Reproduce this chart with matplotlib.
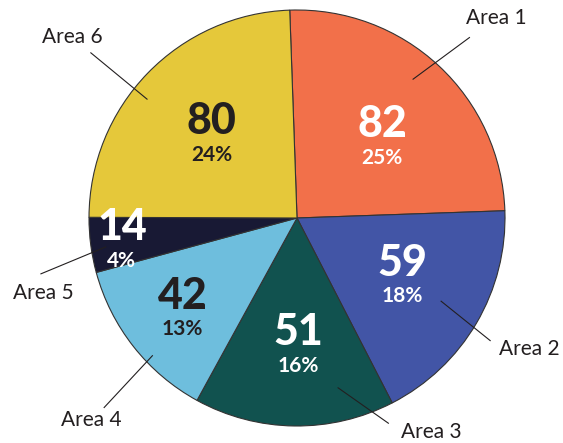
import numpy as np
import matplotlib
matplotlib.use("Agg")
import matplotlib.pyplot as plt

# data
areas = ["Area 1", "Area 2", "Area 3", "Area 4", "Area 5", "Area 6"]
values = [82, 59, 51, 42, 14, 80]
percents = ["25%", "18%", "16%", "13%", "4%", "24%"]

colors = ["#F2704A", "#4255A6", "#11524F", "#6EBEDD", "#181934", "#E5C83A"]
text_colors = ["white", "white", "white", "#231F20", "white", "#231F20"]

# layout of the labels (in radius units)
inner_r = [0.555, 0.583, 0.625, 0.71, 0.85, 0.565]
inner_shift = [-4.5, 0.5, 1.2, 1.1, 0.6, 0.5]      # deg from slice middle
leader_start = [(50.1, 0.87), (-30.0, 0.80), (-76.4, 0.84),
                (-136.4, 0.96), (-171.4, 0.93), (141.6, 0.92)]   # (deg, r)
leader_end = [(46.3, 1.20), (-32.4, 1.10), (-66.0, 1.08),
              (-135.5, 1.30), (-167.7, 1.26), (141.3, 1.27)]
label_pos = [(0.96, 0.96), (1.115, -0.63), (0.645, -1.03),
             (-0.99, -0.97), (-1.22, -0.36), (-1.08, 0.87)]

dark = "#231F20"
plt.rcParams['font.family'] = ['Lato', 'DejaVu Sans']

fig = plt.figure(figsize=(5.63, 4.43), dpi=100)
ax = fig.add_axes([89 / 563, 17 / 443, 416 / 563, 416 / 443])
wedges, _ = ax.pie(values, colors=colors, startangle=92, counterclock=False,
                   radius=1.0, wedgeprops=dict(edgecolor="#333333", linewidth=0.8))
ax.set_xlim(-1, 1)
ax.set_ylim(-1, 1)
ax.set_aspect("equal")
ax.axis("off")


def polar(a, r):
    a = np.deg2rad(a)
    return r * np.cos(a), r * np.sin(a)


for i, w in enumerate(wedges):
    mid = (w.theta1 + w.theta2) / 2 + inner_shift[i]
    x, y = polar(mid, inner_r[i])
    ax.text(x, y + 0.075, str(values[i]), ha="center", va="center",
            fontsize=31, fontweight="black", color=text_colors[i])
    ax.text(x, y - 0.085, percents[i], ha="center", va="center",
            fontsize=15, fontweight="bold", color=text_colors[i])

    x0, y0 = polar(*leader_start[i])
    x1, y1 = polar(*leader_end[i])
    ax.plot([x0, x1], [y0, y1], color=dark, lw=0.8, clip_on=False)
    ax.text(label_pos[i][0], label_pos[i][1], areas[i], ha="center", va="center",
            fontsize=15, color=dark)

fig.savefig("out.png", dpi=100)
